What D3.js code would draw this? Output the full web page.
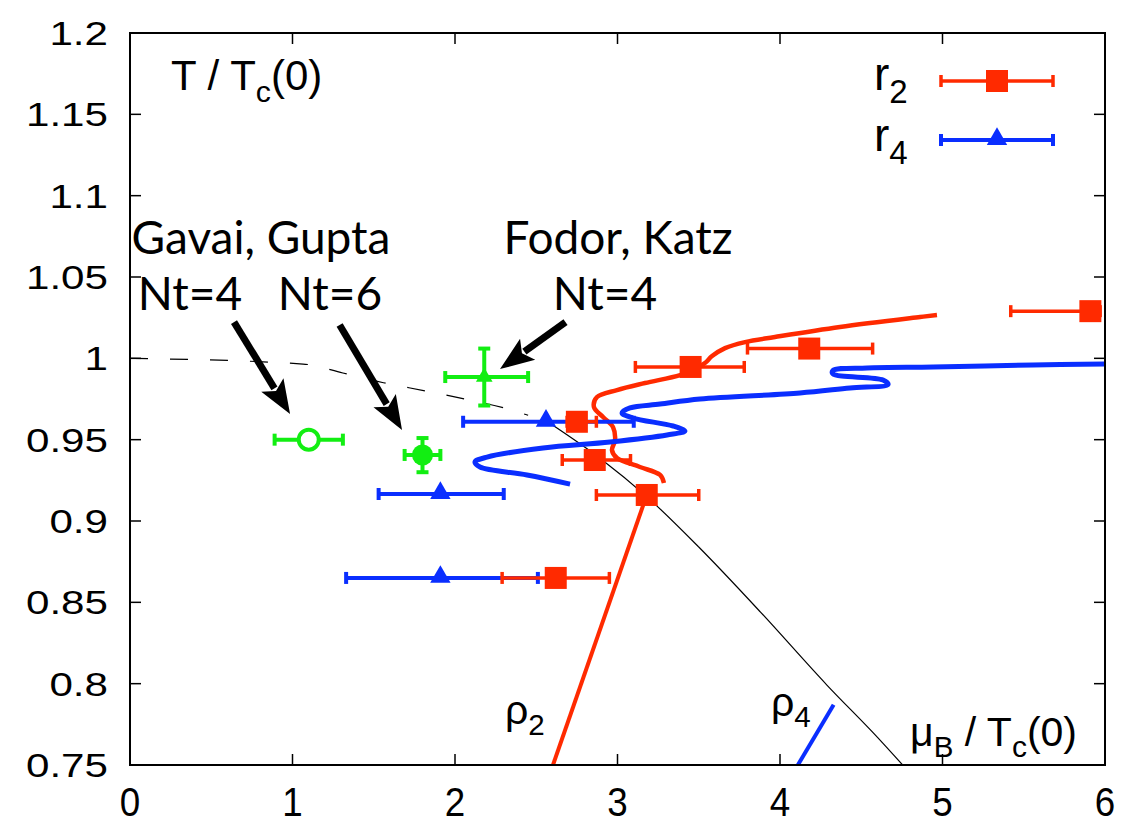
<!DOCTYPE html>
<html>
<head>
<meta charset="utf-8">
<script src="https://cdn.jsdelivr.net/npm/d3@7"></script>
<style>
body { margin: 0; background: #fff; }
svg { display: block; }
text { font-family: "Liberation Sans", Arial, sans-serif; fill: #000; }
.note { font-family: Lato, "Open Sans", sans-serif; }
</style>
</head>
<body>
<svg width="1143" height="823"></svg>
<script>
// axis ticks
var xTicks = [0, 1, 2, 3, 4, 5, 6];
var yTicks = [0.75, 0.8, 0.85, 0.9, 0.95, 1, 1.05, 1.1, 1.15, 1.2];
var yTickLabels = ["0.75", "0.8", "0.85", "0.9", "0.95", "1", "1.05", "1.1", "1.15", "1.2"];

// r2 points (red squares) : mu, T, mu low, mu high
var r2Mu = [2.62, 3.18, 2.86, 2.75, 3.45, 4.18, 5.91];
var r2T  = [0.865, 0.916, 0.9375, 0.961, 0.9947, 1.006, 1.029];
var r2Lo = [2.29, 2.87, 2.66, 2.69, 3.11, 3.80, 5.42];
var r2Hi = [2.95, 3.50, 3.08, 2.87, 3.78, 4.57, 5.97];

// r4 points (blue triangles)
var r4Mu = [1.91, 1.91, 2.56];
var r4T  = [0.865, 0.9166, 0.961];
var r4Lo = [1.33, 1.53, 2.05];
var r4Hi = [2.51, 2.30, 3.10];

// lattice results (green): open circle, filled circle, triangle
var gMu  = [1.10, 1.80, 2.18];
var gT   = [0.950, 0.9406, 0.9885];
var gLo  = [0.89, 1.69, 1.94];
var gHi  = [1.31, 1.91, 2.45];
var gTLo = [null, 0.930, 0.971];
var gTHi = [null, 0.951, 1.006];

// curves [mu, T]
var rho2Line = [[2.603, 0.75], [3.18, 0.916]];
var rho4Line = [[4.11, 0.75], [4.33, 0.787]];
var r2Curve = [[3.286, 0.9234], [3.262, 0.9283], [3.138, 0.9332], [2.997, 0.9387], [2.966, 0.9436],
  [2.985, 0.9498], [2.972, 0.9578], [2.911, 0.9639], [2.855, 0.9701], [2.874, 0.9762], [2.997, 0.9805],
  [3.169, 0.9848], [3.385, 0.9897], [3.477, 0.9934], [3.538, 0.9971], [3.582, 1.0014], [3.662, 1.0063],
  [3.785, 1.0100], [3.969, 1.0131], [4.369, 1.0193], [4.862, 1.0254], [4.966, 1.0266]];
var r4Curve = [[2.708, 0.9227], [2.443, 0.9283], [2.154, 0.9332], [2.123, 0.9363], [2.197, 0.9393],
  [2.542, 0.9449], [2.954, 0.9486], [3.305, 0.9529], [3.415, 0.9553], [3.342, 0.9584], [3.095, 0.9633],
  [3.028, 0.9664], [3.077, 0.9695], [3.262, 0.9719], [3.508, 0.9750], [4.123, 0.9787], [4.431, 0.9818],
  [4.665, 0.9839], [4.634, 0.9867], [4.326, 0.9904], [4.326, 0.9925], [4.535, 0.9941], [4.942, 0.9947],
  [5.557, 0.9959], [6.0, 0.9965]];
var tcDashed = [[0, 1.0], [1.065, 0.9965], [1.31, 0.991], [1.56, 0.985], [1.815, 0.980], [2.06, 0.975], [2.32, 0.969], [2.45, 0.965]];
var tcSolid = [[2.60, 0.959], [2.90, 0.938], [3.18, 0.915], [3.50, 0.884], [3.88, 0.844], [4.29, 0.799], [4.60, 0.767], [4.80, 0.745]];

// arrows [from mu, from T, to mu, to T]
var arrows = [[0.64, 1.0223, 0.985, 0.9658], [1.29, 1.0205, 1.674, 0.956], [2.68, 1.0223, 2.277, 0.9934]];

var svg = d3.select("svg");
var m = {left: 130, right: 1105, top: 33, bottom: 765};
var red = "#ff2a00", blue = "#0a2eff", green = "#12ee12";

var x = d3.scaleLinear().domain([0, 6]).range([m.left, m.right]);
var y = d3.scaleLinear().domain([0.75, 1.2]).range([m.bottom, m.top]);

svg.append("clipPath").attr("id", "clip").append("rect")
  .attr("x", m.left).attr("y", m.top).attr("width", m.right - m.left).attr("height", m.bottom - m.top);

// ticks, gnuplot style: inside on all four sides
var tl = 11;
var tk = svg.append("g").attr("stroke", "#000").attr("stroke-width", 1.5);
xTicks.forEach(function(t) {
  tk.append("line").attr("x1", x(t)).attr("x2", x(t)).attr("y1", m.bottom).attr("y2", m.bottom - tl);
  tk.append("line").attr("x1", x(t)).attr("x2", x(t)).attr("y1", m.top).attr("y2", m.top + tl);
});
yTicks.forEach(function(t) {
  tk.append("line").attr("x1", m.left).attr("x2", m.left + tl).attr("y1", y(t)).attr("y2", y(t));
  tk.append("line").attr("x1", m.right).attr("x2", m.right - tl).attr("y1", y(t)).attr("y2", y(t));
});

svg.selectAll(".xl").data(xTicks).enter().append("text")
  .attr("transform", function(d) { return "translate(" + x(d) + ",816) scale(0.92,1)"; })
  .attr("text-anchor", "middle").style("font-size", "40px")
  .text(function(d) { return d; });

svg.selectAll(".yl").data(yTicks).enter().append("text")
  .attr("transform", function(d) { return "translate(108," + (y(d) + 12) + ") scale(1.24,1)"; })
  .attr("text-anchor", "end").style("font-size", "34px")
  .text(function(d, i) { return yTickLabels[i]; });

var plot = svg.append("g").attr("clip-path", "url(#clip)");
var line = d3.line().x(function(d) { return x(d[0]); }).y(function(d) { return y(d[1]); });
var smooth = d3.line().curve(d3.curveCatmullRom.alpha(0.5))
  .x(function(d) { return x(d[0]); }).y(function(d) { return y(d[1]); });
var mono = d3.line().curve(d3.curveMonotoneX)
  .x(function(d) { return x(d[0]); }).y(function(d) { return y(d[1]); });

// Tc line
plot.append("path").attr("d", mono(tcDashed)).attr("fill", "none")
  .attr("stroke", "#000").attr("stroke-width", 1.2).attr("stroke-dasharray", "18,22");
plot.append("path").attr("d", mono(tcSolid)).attr("fill", "none")
  .attr("stroke", "#000").attr("stroke-width", 1.2);

plot.append("path").attr("d", line(rho2Line)).attr("fill", "none").attr("stroke", red).attr("stroke-width", 4);
plot.append("path").attr("d", line(rho4Line)).attr("fill", "none").attr("stroke", blue).attr("stroke-width", 4);
plot.append("path").attr("d", smooth(r2Curve)).attr("fill", "none").attr("stroke", red).attr("stroke-width", 4.5);
plot.append("path").attr("d", smooth(r4Curve)).attr("fill", "none").attr("stroke", blue).attr("stroke-width", 5);

function xErr(g, x1, x2, yy, col, w) {
  g.append("line").attr("x1", x(x1)).attr("x2", x(x2)).attr("y1", y(yy)).attr("y2", y(yy))
    .attr("stroke", col).attr("stroke-width", w);
  [x1, x2].forEach(function(v) {
    g.append("line").attr("x1", x(v)).attr("x2", x(v)).attr("y1", y(yy) - 6).attr("y2", y(yy) + 6)
      .attr("stroke", col).attr("stroke-width", w);
  });
}
function yErr(g, xx, y1, y2, col, w) {
  g.append("line").attr("x1", x(xx)).attr("x2", x(xx)).attr("y1", y(y1)).attr("y2", y(y2))
    .attr("stroke", col).attr("stroke-width", w);
  [y1, y2].forEach(function(v) {
    g.append("line").attr("x1", x(xx) - 6).attr("x2", x(xx) + 6).attr("y1", y(v)).attr("y2", y(v))
      .attr("stroke", col).attr("stroke-width", w);
  });
}

var pts = plot.append("g");
var tri = d3.symbol().type(d3.symbolTriangle);

r4Mu.forEach(function(v, i) { xErr(pts, r4Lo[i], r4Hi[i], r4T[i], blue, 4); });
r4Mu.forEach(function(v, i) {
  pts.append("path").attr("d", tri.size(180)()).attr("fill", blue)
    .attr("transform", "translate(" + x(v) + "," + (y(r4T[i]) - 1) + ")");
});
r2Mu.forEach(function(v, i) { xErr(pts, r2Lo[i], r2Hi[i], r2T[i], red, 3.5); });
r2Mu.forEach(function(v, i) {
  pts.append("rect").attr("x", x(v) - 11).attr("y", y(r2T[i]) - 11)
    .attr("width", 22).attr("height", 22).attr("fill", red);
});

// green points
gMu.forEach(function(v, i) {
  xErr(pts, gLo[i], gHi[i], gT[i], green, 4);
  if (gTLo[i] !== null) yErr(pts, v, gTLo[i], gTHi[i], green, 4);
});
pts.append("circle").attr("cx", x(gMu[0])).attr("cy", y(gT[0])).attr("r", 10)
  .attr("fill", "#fff").attr("stroke", green).attr("stroke-width", 4);
pts.append("circle").attr("cx", x(gMu[1])).attr("cy", y(gT[1])).attr("r", 10.5).attr("fill", green);
pts.append("path").attr("d", tri.size(120)()).attr("fill", green)
  .attr("transform", "translate(" + x(gMu[2]) + "," + y(gT[2]) + ")");

// arrows
arrows.forEach(function(a) {
  var x1 = x(a[0]), y1 = y(a[1]), x2 = x(a[2]), y2 = y(a[3]);
  var dx = x2 - x1, dy = y2 - y1, L = Math.sqrt(dx * dx + dy * dy);
  var ux = dx / L, uy = dy / L, hl = 34, hw = 13;
  var bx = x2 - ux * hl, by = y2 - uy * hl;
  svg.append("line").attr("x1", x1).attr("y1", y1).attr("x2", bx + ux * 4).attr("y2", by + uy * 4)
    .attr("stroke", "#000").attr("stroke-width", 7);
  svg.append("path").attr("fill", "#000")
    .attr("d", "M" + x2 + "," + y2 + "L" + (bx - uy * hw) + "," + (by + ux * hw) +
      "L" + (bx + ux * 7) + "," + (by + uy * 7) + "L" + (bx + uy * hw) + "," + (by - ux * hw) + "Z");
});

// frame
svg.append("rect").attr("x", m.left).attr("y", m.top).attr("width", m.right - m.left)
  .attr("height", m.bottom - m.top).attr("fill", "none").attr("stroke", "#000").attr("stroke-width", 2);

// annotations
function note(txt, cx, by) {
  svg.append("text").attr("class", "note").attr("x", cx).attr("y", by)
    .attr("text-anchor", "middle").style("font-size", "46px").text(txt);
}
note("Gavai, Gupta", 261, 254);
note("Nt=4", 190, 310);
note("Nt=6", 330, 310);
note("Fodor, Katz", 618, 254);
note("Nt=4", 605, 310);

function sub(xx, yy, main, s, rest, size, anchor) {
  var t = svg.append("text").attr("x", xx).attr("y", yy).style("font-size", size + "px")
    .attr("text-anchor", anchor || "start");
  t.append("tspan").text(main);
  t.append("tspan").attr("dy", size * 0.28).style("font-size", (size * 0.72) + "px").text(s);
  if (rest) t.append("tspan").attr("dy", -size * 0.28).text(rest);
  return t;
}
sub(171, 90, "T / T", "c", "(0)", 42);
sub(1077, 746, "\u03bc", "B", " / T", 41, "end").append("tspan").attr("dy", 11).style("font-size", "30px").text("c")
  .select(function() { return this.parentNode; }).append("tspan").attr("dy", -11).text("(0)");
sub(505, 724, "\u03c1", "2", null, 41);
sub(771, 716, "\u03c1", "4", null, 41);

// legend
var leg = svg.append("g");
sub(874, 90, "r", "2", null, 46);
sub(874, 151, "r", "4", null, 46);
leg.append("line").attr("x1", 941).attr("x2", 1053).attr("y1", 81).attr("y2", 81).attr("stroke", red).attr("stroke-width", 3.5);
leg.append("line").attr("x1", 941).attr("x2", 1053).attr("y1", 140).attr("y2", 140).attr("stroke", blue).attr("stroke-width", 4);
[941, 1053].forEach(function(v) {
  leg.append("line").attr("x1", v).attr("x2", v).attr("y1", 75).attr("y2", 87).attr("stroke", red).attr("stroke-width", 3.5);
  leg.append("line").attr("x1", v).attr("x2", v).attr("y1", 134).attr("y2", 146).attr("stroke", blue).attr("stroke-width", 4);
});
leg.append("rect").attr("x", 986).attr("y", 70).attr("width", 22).attr("height", 22).attr("fill", red);
leg.append("path").attr("d", tri.size(180)()).attr("fill", blue).attr("transform", "translate(997,139)");
</script>
</body>
</html>
